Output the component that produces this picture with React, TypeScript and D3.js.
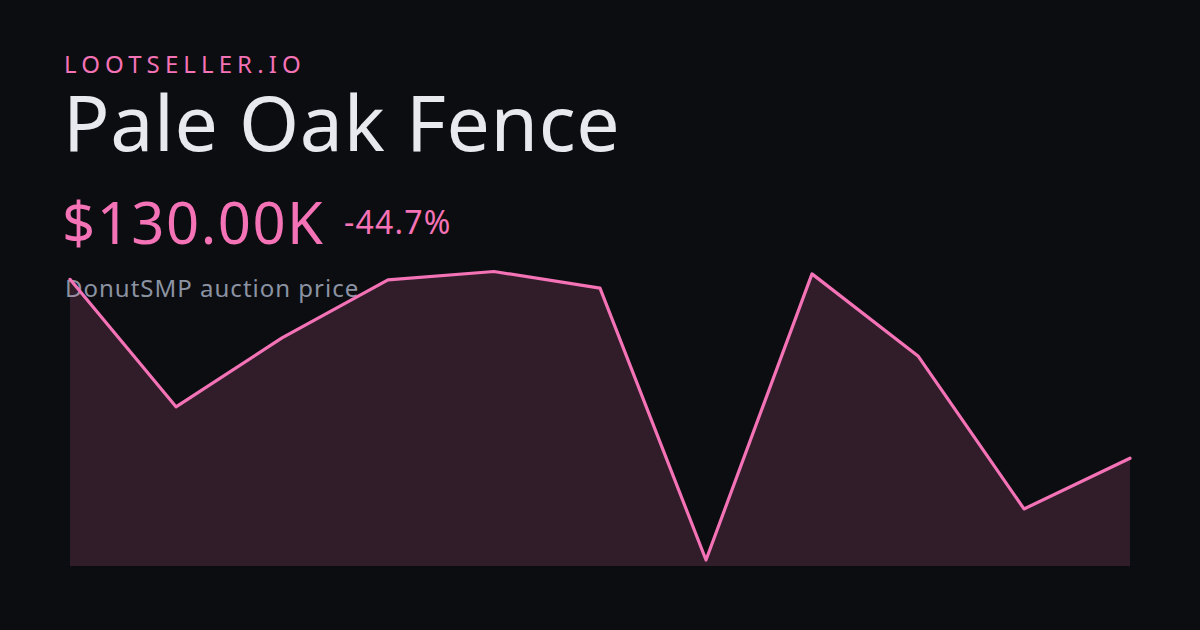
import * as d3 from "d3";
import { useEffect, useRef } from "react";

// price history (K$), oldest -> newest
const prices = [235.1, 160.2, 200.7, 234.8, 239.7, 229.9, 70.2, 238.3, 190.1, 100.2, 130.0];
const brand = "LOOTSELLER.IO";
const itemName = "Pale Oak Fence";
const subtitle = "DonutSMP auction price";

const W = 1200;
const H = 630;
const PINK = "#f472b6";

const App = () => {
  const ref = useRef<SVGSVGElement>(null);

  useEffect(() => {
    if (!ref.current) return;
    const svg = d3.select(ref.current);
    svg.selectAll("*").remove();

    svg.append("rect").attr("width", W).attr("height", H).attr("fill", "#0c0d10");

    const font = "'Noto Sans', 'Open Sans', sans-serif";
    const last = prices[prices.length - 1];
    const change = ((last - prices[0]) / prices[0]) * 100;

    svg.append("text")
      .attr("x", 64).attr("y", 73)
      .attr("font-family", font).attr("font-size", 24)
      .attr("letter-spacing", 5.1)
      .attr("fill", PINK)
      .text(brand);

    svg.append("text")
      .attr("x", 63).attr("y", 151)
      .attr("font-family", font).attr("font-size", 77)
      .attr("letter-spacing", 0.6)
      .attr("fill", "#e8e9ee")
      .text(itemName);

    svg.append("text")
      .attr("x", 62).attr("y", 244)
      .attr("font-family", font).attr("font-size", 58)
      .attr("letter-spacing", 1.5)
      .attr("fill", PINK)
      .text(`$${last.toFixed(2)}K`);

    svg.append("text")
      .attr("x", 344).attr("y", 234)
      .attr("font-family", font).attr("font-size", 32)
      .attr("letter-spacing", 1.2)
      .attr("fill", PINK)
      .text(`${change.toFixed(1)}%`);

    svg.append("text")
      .attr("x", 65).attr("y", 297)
      .attr("font-family", font).attr("font-size", 24)
      .attr("letter-spacing", 1)
      .attr("fill", "#8b93a3")
      .text(subtitle);

    const x = d3.scaleLinear().domain([0, prices.length - 1]).range([70, 1130]);
    const y = d3
      .scaleLinear()
      .domain(d3.extent(prices) as [number, number])
      .range([560, 271.5]);
    const bottom = 566;

    const area = d3
      .area<number>()
      .x((_, i) => x(i))
      .y0(bottom)
      .y1((d) => y(d));

    const line = d3
      .line<number>()
      .x((_, i) => x(i))
      .y((d) => y(d));

    svg.append("path")
      .datum(prices)
      .attr("d", area)
      .attr("fill", PINK)
      .attr("fill-opacity", 0.16);

    svg.append("path")
      .datum(prices)
      .attr("d", line)
      .attr("fill", "none")
      .attr("stroke", PINK)
      .attr("stroke-width", 3.2)
      .attr("stroke-linejoin", "round")
      .attr("stroke-linecap", "round");
  }, []);

  return (
    <svg
      ref={ref}
      width={W}
      height={H}
      style={{ position: "absolute", left: 0, top: 0, display: "block" }}
    />
  );
};

export default App;
